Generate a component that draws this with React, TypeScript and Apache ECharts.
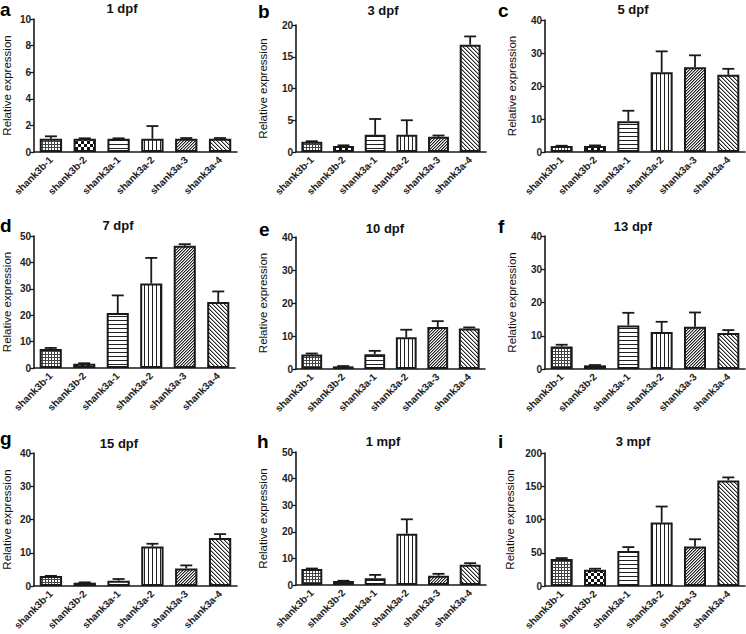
import React, { useEffect, useRef } from 'react';
import * as echarts from 'echarts';

const genes = ['shank3b-1', 'shank3b-2', 'shank3a-1', 'shank3a-2', 'shank3a-3', 'shank3a-4'];
const panelLetters = ['a', 'b', 'c', 'd', 'e', 'f', 'g', 'h', 'i'];
const panelTitles = ['1 dpf', '3 dpf', '5 dpf', '7 dpf', '10 dpf', '13 dpf', '15 dpf', '1 mpf', '3 mpf'];

const mean1dpf = [1.0, 1.0, 1.0, 1.0, 1.0, 1.0];
const err1dpf = [0.18, 0.03, 0.03, 0.95, 0.05, 0.05];
const mean3dpf = [1.6, 0.95, 2.7, 2.7, 2.4, 16.9];
const err3dpf = [0.1, 0.1, 2.5, 2.3, 0.2, 1.3];
const mean5dpf = [1.8, 1.8, 9.3, 24.2, 25.7, 23.4];
const err5dpf = [0.1, 0.2, 3.2, 6.3, 3.6, 1.8];
const mean7dpf = [7.2, 1.6, 20.8, 32.0, 46.3, 25.0];
const err7dpf = [0.4, 0.2, 6.7, 9.7, 0.6, 4.0];
const mean10dpf = [4.4, 0.8, 4.5, 9.6, 12.7, 12.3];
const err10dpf = [0.3, 0.1, 1.0, 2.3, 1.8, 0.3];
const mean13dpf = [6.8, 1.1, 13.1, 11.1, 12.7, 10.8];
const err13dpf = [0.5, 0.1, 3.8, 3.1, 4.3, 0.9];
const mean15dpf = [3.0, 1.0, 1.6, 11.9, 5.3, 14.4];
const err15dpf = [0.05, 0.1, 0.5, 0.8, 0.9, 1.2];
const mean1mpf = [6.0, 1.5, 2.5, 19.3, 3.5, 7.6];
const err1mpf = [0.2, 0.1, 1.3, 5.4, 0.7, 0.6];
const mean3mpf = [40.5, 24.5, 52.5, 95.5, 59.3, 158.8];
const err3mpf = [1.5, 1.5, 6.0, 24.0, 11.0, 4.5];

const means = [mean1dpf, mean3dpf, mean5dpf, mean7dpf, mean10dpf, mean13dpf, mean15dpf, mean1mpf, mean3mpf];
const errs = [err1dpf, err3dpf, err5dpf, err7dpf, err10dpf, err13dpf, err15dpf, err1mpf, err3mpf];
const yMax = [10, 20, 40, 50, 40, 40, 40, 50, 200];
const yStep = [2, 5, 10, 10, 10, 10, 10, 10, 50];

// layout (pixel rects of each plot area)
const grids = [
  { left: 33, top: 19, width: 204, height: 133 },
  { left: 296, top: 25, width: 190, height: 127 },
  { left: 545, top: 20, width: 200, height: 132 },
  { left: 33, top: 236, width: 202, height: 132 },
  { left: 296, top: 237, width: 189, height: 132 },
  { left: 545, top: 236, width: 200, height: 133 },
  { left: 33, top: 453, width: 204, height: 133 },
  { left: 296, top: 452, width: 190, height: 133 },
  { left: 545, top: 453, width: 200, height: 133 },
];
const titlePos = [
  [122, 8], [383, 10], [633, 9], [118, 225], [385, 228], [633, 226], [119, 443], [383, 441], [633, 441],
];
const letterPos = [
  [0, 0], [258, 2], [498, 1], [0, 216], [259, 220], [498, 217], [0, 429], [257, 432], [498, 432],
];
const nameGaps = [21, 27, 27, 21, 27, 27, 21, 27, 29];

const INK = '#1a1a1a';
const FONT = 'Liberation Sans, Arial, sans-serif';

function makePattern(kind: number) {
  const c = document.createElement('canvas');
  const ctx = c.getContext('2d')!;
  const px = (x: number, y: number, col: string, w = 1, h = 1) => {
    ctx.fillStyle = col;
    ctx.fillRect(x, y, w, h);
  };
  if (kind === 0) {
    c.width = 3; c.height = 3;
    px(0, 0, '#fff', 3, 3);
    px(0, 0, '#444', 3, 1);
    px(0, 0, '#444', 1, 3);
  } else if (kind === 1) {
    c.width = 6; c.height = 6;
    px(0, 0, '#fff', 6, 6);
    px(0, 0, '#111', 3, 3);
    px(3, 3, '#111', 3, 3);
  } else if (kind === 2) {
    c.width = 4; c.height = 4;
    px(0, 0, '#fff', 4, 4);
    px(0, 0, '#222', 4, 1);
  } else if (kind === 3) {
    c.width = 4; c.height = 4;
    px(0, 0, '#fff', 4, 4);
    px(0, 0, '#222', 1, 4);
  } else if (kind === 4) {
    c.width = 3; c.height = 3;
    px(0, 0, '#fff', 3, 3);
    for (let i = 0; i < 3; i++) {
      px(2 - i, i, '#222');
      px((3 - i) % 3, i, '#999');
    }
  } else {
    c.width = 4; c.height = 4;
    px(0, 0, '#fff', 4, 4);
    for (let i = 0; i < 4; i++) {
      px(i, i, '#222');
      px((i + 1) % 4, i, '#aaa');
    }
  }
  return { image: c, repeat: 'repeat' } as any;
}

export default function App() {
  const ref = useRef<HTMLDivElement>(null);
  useEffect(() => {
    document.body.style.margin = '0';
    if (!ref.current) return;
    const chart = echarts.init(ref.current, undefined, { renderer: 'svg' });
    const patterns = genes.map((_, i) => makePattern(i));

    const xAxis: any[] = [];
    const yAxis: any[] = [];
    const series: any[] = [];
    const graphic: any[] = [];

    grids.forEach((g, k) => {
      xAxis.push({
        type: 'category', gridIndex: k, data: genes,
        axisLine: { lineStyle: { color: INK, width: 1.6 } },
        axisTick: { alignWithLabel: true, length: 4, lineStyle: { color: INK, width: 1.3 } },
        axisLabel: { rotate: 45, fontSize: 10, fontWeight: 'bold', color: '#222', margin: 6, fontFamily: FONT, interval: 0 },
        splitLine: { show: false },
      });
      yAxis.push({
        type: 'value', gridIndex: k, min: 0, max: yMax[k], interval: yStep[k],
        name: 'Relative expression', nameLocation: 'middle', nameGap: nameGaps[k],
        nameTextStyle: { fontSize: 11.5, color: '#111', fontFamily: FONT },
        axisLine: { show: true, lineStyle: { color: INK, width: 1.6 } },
        axisTick: { show: true, length: 4, lineStyle: { color: INK, width: 1.3 } },
        axisLabel: { fontSize: 10, fontWeight: 'bold', color: '#222', margin: 3, fontFamily: FONT },
        splitLine: { show: false },
      });
      series.push({
        type: 'bar', xAxisIndex: k, yAxisIndex: k, barWidth: '66%',
        data: means[k].map((v, i) => ({
          value: v,
          itemStyle: { color: patterns[i], borderColor: INK, borderWidth: 2 },
        })),
      });
      series.push({
        type: 'custom', xAxisIndex: k, yAxisIndex: k, z: 5,
        encode: { x: 0, y: 1 },
        data: means[k].map((v, i) => [i, v, errs[k][i]]),
        renderItem: (params: any, api: any) => {
          const x = api.value(0);
          const m = api.value(1);
          const e = api.value(2);
          const p0 = api.coord([x, m]);
          const p1 = api.coord([x, m + e]);
          const half = 6;
          return {
            type: 'group',
            children: [
              { type: 'line', shape: { x1: p0[0], y1: p0[1], x2: p1[0], y2: p1[1] }, style: { stroke: INK, lineWidth: 1.8 } },
              { type: 'line', shape: { x1: p1[0] - half, y1: p1[1], x2: p1[0] + half, y2: p1[1] }, style: { stroke: INK, lineWidth: 1.8 } },
            ],
          };
        },
      });
      graphic.push({
        type: 'text', x: titlePos[k][0], y: titlePos[k][1],
        style: { text: panelTitles[k], fontSize: 13, fontWeight: 'bold', fill: '#111', fontFamily: FONT, align: 'center', verticalAlign: 'middle' },
      });
      graphic.push({
        type: 'text', x: letterPos[k][0], y: letterPos[k][1],
        style: { text: panelLetters[k], fontSize: 19, fontWeight: 'bold', fill: '#000', fontFamily: FONT },
      });
    });

    chart.setOption({
      animation: false,
      backgroundColor: '#fff',
      grid: grids.map((g) => ({ ...g, containLabel: false })),
      xAxis,
      yAxis,
      series,
      graphic,
    });

    return () => chart.dispose();
  }, []);
  return <div ref={ref} style={{ width: 746, height: 634 }} />;
}
